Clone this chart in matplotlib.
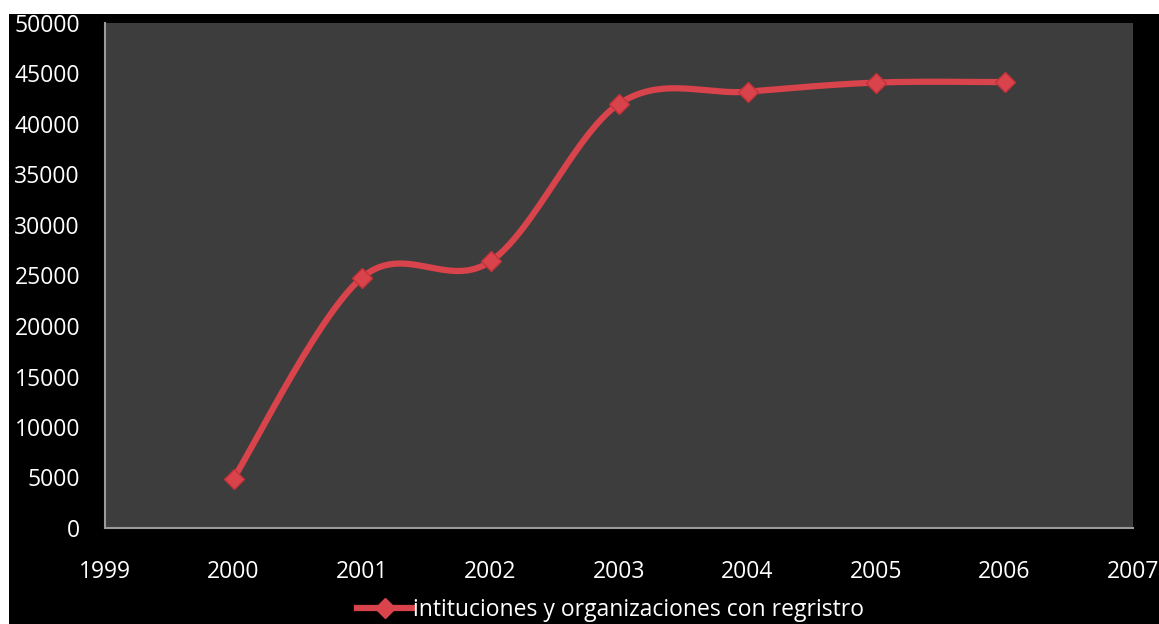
import numpy as np
import matplotlib
matplotlib.use('Agg')
import matplotlib.pyplot as plt
from matplotlib.patches import Rectangle

# data
years = [2000, 2001, 2002, 2003, 2004, 2005, 2006]
registros = [4900, 24800, 26400, 42000, 43200, 44100, 44150]
serie_label = 'intituciones y organizaciones con regristro'
yticks = [0, 5000, 10000, 15000, 20000, 25000, 30000, 35000, 40000, 45000, 50000]
xticks = [1999, 2000, 2001, 2002, 2003, 2004, 2005, 2006, 2007]

red = '#d9434b'


def smooth(x, y, n=30):
    # excel-like smoothed line (catmull-rom through the points)
    x = np.asarray(x, float)
    y = np.asarray(y, float)
    px = np.concatenate([[x[0]], x, [x[-1]]])
    py = np.concatenate([[y[0]], y, [y[-1]]])
    xs, ys = [], []
    t = np.linspace(0, 1, n)
    for i in range(1, len(px) - 2):
        p0 = np.array([px[i], py[i]])
        p3 = np.array([px[i + 1], py[i + 1]])
        c1 = p0 + (np.array([px[i + 1], py[i + 1]]) - np.array([px[i - 1], py[i - 1]])) / 6
        c2 = p3 - (np.array([px[i + 2], py[i + 2]]) - np.array([px[i], py[i]])) / 6
        b = ((1 - t) ** 3)[:, None] * p0 + (3 * (1 - t) ** 2 * t)[:, None] * c1 \
            + (3 * (1 - t) * t ** 2)[:, None] * c2 + (t ** 3)[:, None] * p3
        xs.extend(b[:, 0])
        ys.extend(b[:, 1])
    return xs, ys


plt.rcParams['font.family'] = ['Open Sans', 'DejaVu Sans']

fig = plt.figure(figsize=(11.59, 6.24), dpi=100)
fig.patch.set_facecolor('white')
fig.patches.append(Rectangle((9 / 1159, 0), 1 - 9 / 1159, 1 - 14 / 624,
                             transform=fig.transFigure, facecolor='black',
                             edgecolor='none', zorder=-10))

ax = fig.add_axes([105 / 1159, 96 / 624, 1028 / 1159, 505 / 624])
ax.set_facecolor('#3d3d3d')

sx, sy = smooth(years, registros)
ax.plot(sx, sy, color=red, lw=4.5, solid_capstyle='round', zorder=3)
ax.plot(years, registros, linestyle='none', marker='D', markersize=10,
        color=red, markeredgecolor='#c4323a', zorder=4)

ax.set_xlim(1999, 2007)
ax.set_ylim(0, 50000)
ax.set_xticks(xticks)
ax.set_yticks(yticks)
ax.set_xticklabels([str(v) for v in xticks])
ax.set_yticklabels([str(v) for v in yticks])
ax.tick_params(colors='white', labelsize=16.5, length=0)
ax.tick_params(axis='y', pad=18)
ax.tick_params(axis='x', pad=23)

for s in ['top', 'right']:
    ax.spines[s].set_visible(False)
for s in ['left', 'bottom']:
    ax.spines[s].set_color('#9a9a9a')
    ax.spines[s].set_linewidth(1.5)

handle = plt.Line2D([0], [0], color=red, lw=4.5, marker='D', markersize=10)
fig.legend([handle], [serie_label], loc='center', bbox_to_anchor=(0.527, 0.022),
           frameon=False, fontsize=16.5, labelcolor='white', handlelength=2.4,
           handletextpad=0.05)

fig.savefig('out.png', dpi=100, facecolor=fig.get_facecolor())
